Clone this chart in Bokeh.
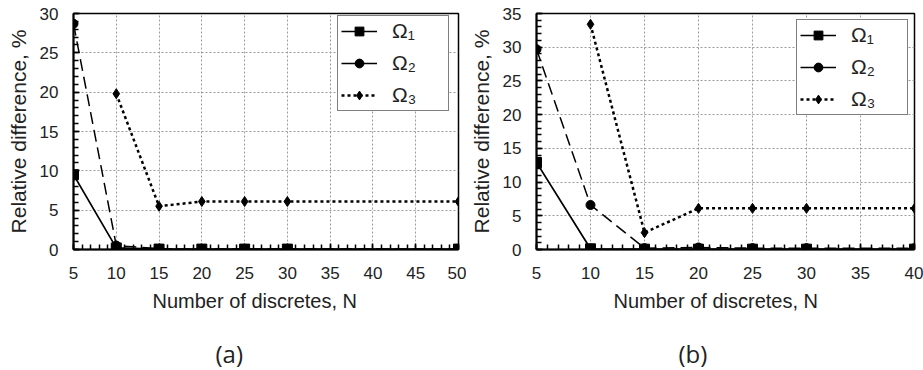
from bokeh.plotting import figure
from bokeh.models import Range1d, SingleIntervalTicker, Legend, LegendItem, Title
from bokeh.layouts import row
from bokeh.embed import file_html
from bokeh.resources import INLINE

# ---------------- data ----------------
# panel (a)
N_a = [5, 10, 15, 20, 25, 30, 50]
omega1_a = [9.5, 0.2, 0.05, 0.05, 0.05, 0.05, 0.05]
omega2_a = [28.7, 0.5, 0.1, 0.05, 0.05, 0.05, 0.05]
N3_a = [10, 15, 20, 25, 30, 50]
omega3_a = [19.8, 5.5, 6.1, 6.1, 6.1, 6.1]

# panel (b)
N_b = [5, 10, 15, 20, 25, 30, 40]
omega1_b = [12.9, 0.1, 0.05, 0.05, 0.05, 0.05, 0.05]
omega2_b = [29.7, 6.6, 0.2, 0.3, 0.2, 0.2, 0.2]
N3_b = [10, 15, 20, 25, 30, 40]
omega3_b = [33.4, 2.5, 6.1, 6.1, 6.1, 6.1]

series_names = ["Ω₁", "Ω₂", "Ω₃"]
x_label = "Number of discretes, N"
y_label = "Relative difference, %"
captions = ["(a)", "(b)"]

FONT = "Liberation Sans"
TXT = "#222222"


def make_panel(N, o1, o2, N3, o3, xmax, ymax, caption, width, bl, br, leg_xy, xl_off, cap_off):
    p = figure(width=width, height=370, output_backend="svg", toolbar_location=None,
               x_range=Range1d(5, xmax), y_range=Range1d(0, ymax),
               min_border_left=bl, min_border_right=br, min_border_top=13, min_border_bottom=121)
    p.background_fill_color = "white"
    p.border_fill_color = "white"
    p.outline_line_color = "black"
    p.outline_line_width = 1.5

    p.xaxis.ticker = SingleIntervalTicker(interval=5, num_minor_ticks=5)
    p.yaxis.ticker = SingleIntervalTicker(interval=5, num_minor_ticks=5)
    for ax in (p.xaxis[0], p.yaxis[0]):
        ax.axis_line_color = "black"
        ax.axis_line_width = 2
        ax.major_tick_in = 6
        ax.major_tick_out = 0
        ax.minor_tick_in = 5
        ax.minor_tick_out = 0
        ax.major_tick_line_color = "black"
        ax.minor_tick_line_color = "black"
        ax.major_tick_line_width = 1.5
        ax.minor_tick_line_width = 1.5
        ax.major_label_text_font = FONT
        ax.major_label_text_font_size = "17px"
        ax.major_label_text_color = TXT
        ax.major_label_standoff = 15
    p.xaxis.major_label_standoff = 17
    p.yaxis.axis_label = y_label
    p.yaxis.axis_label_text_font = FONT
    p.yaxis.axis_label_text_font_size = "21px"
    p.yaxis.axis_label_text_font_style = "normal"
    p.yaxis.axis_label_text_color = TXT
    p.yaxis.axis_label_standoff = 7

    for g in (p.xgrid[0], p.ygrid[0]):
        g.grid_line_color = "#9a9a9a"
        g.grid_line_dash = "2 2"
        g.grid_line_width = 1

    # series (drawn back to front)
    l3 = p.line(N3, o3, line_color="black", line_width=2.5, line_dash="3 3")
    m3 = p.scatter(N3, o3, marker="diamond", size=10, fill_color="black", line_color="black")
    l2 = p.line(N, o2, line_color="black", line_width=1.5, line_dash="12 6")
    m2 = p.scatter(N, o2, marker="circle", size=9, fill_color="black", line_color="black")
    l1 = p.line(N, o1, line_color="black", line_width=1.7)
    m1 = p.scatter(N, o1, marker="square", size=10, fill_color="black", line_color="black")

    # the reference legend shows Ω2 with a solid line
    legend = Legend(items=[LegendItem(label=series_names[0], renderers=[l1, m1]),
                           LegendItem(label=series_names[1], renderers=[l1, m2]),
                           LegendItem(label=series_names[2], renderers=[l3, m3])],
                    location=leg_xy, margin=0, padding=3, spacing=8,
                    glyph_width=36, glyph_height=22, label_height=22, label_width=53,
                    label_standoff=15,
                    label_text_font=FONT, label_text_font_size="21px", label_text_color=TXT,
                    border_line_color="black", border_line_width=1.5,
                    background_fill_color="white", background_fill_alpha=1)
    p.add_layout(legend)

    # x-axis title, a small spacer, and the panel caption, stacked below the axis
    p.add_layout(Title(text=x_label, align="left", vertical_align="top", offset=xl_off,
                       standoff=17, text_font=FONT, text_font_size="20px",
                       text_font_style="normal", text_color=TXT), "below")
    p.add_layout(Title(text=" ", align="left", vertical_align="top", standoff=8,
                       text_font=FONT, text_font_size="2px", text_color="white"), "below")
    p.add_layout(Title(text=caption, align="left", vertical_align="bottom", offset=cap_off,
                       standoff=0, text_font="Open Sans", text_font_size="24px",
                       text_font_style="normal", text_color=TXT), "below")
    return p


pa = make_panel(N_a, omega1_a, omega2_a, N3_a, omega3_a, 50, 30, captions[0],
                width=466, bl=73, br=8, leg_xy=(264, 138), xl_off=79, cap_off=142)
pb = make_panel(N_b, omega1_b, omega2_b, N3_b, omega3_b, 40, 35, captions[1],
                width=457, bl=66, br=9, leg_xy=(260, 134), xl_off=77, cap_off=142)

layout = row(pa, pb)
open("out.html", "w").write(file_html(layout, INLINE))
